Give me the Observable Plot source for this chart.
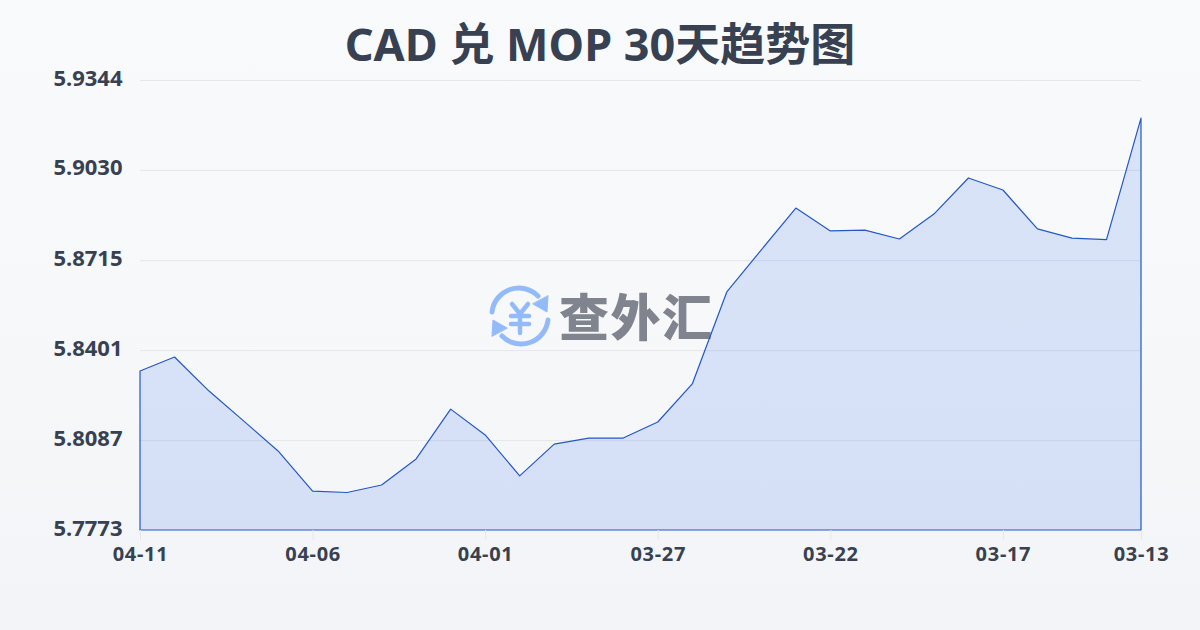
<!DOCTYPE html>
<html><head><meta charset="utf-8">
<script src="https://cdn.jsdelivr.net/npm/d3@7"></script>
<script src="https://cdn.jsdelivr.net/npm/@observablehq/plot@0.6"></script>
<style>
html,body{margin:0;padding:0}
body{width:1200px;height:630px;overflow:hidden;position:relative;background:linear-gradient(180deg,#f8fafc 0%,#f7f8fa 50%,#f2f4f7 100%);font-family:"Noto Sans","Noto Sans CJK SC",sans-serif}
#title{height:60px;padding-top:14px;box-sizing:border-box;text-align:center;font-size:45px;line-height:60px;font-weight:700;color:#374151;position:relative}
#logo{position:absolute;left:488px;top:284px;width:64px;height:64px}
#logotext{position:absolute;left:559px;top:280px;font:900 50px/68px "Noto Sans CJK SC",sans-serif;color:#7f848e;white-space:nowrap;letter-spacing:1.5px}
#chart{position:relative}
#chart svg{display:block;background:transparent}
g[aria-label="x-axis tick label"] text{letter-spacing:.7px}
</style></head><body>
<div id="logo"><svg width="64" height="64" viewBox="0 0 64 64" fill="none" stroke="#93bbfa" stroke-width="5" stroke-linecap="round" stroke-linejoin="round">
<path d="M4 28 A27 27 0 0 1 50 12"/><path d="M60 36 A27 27 0 0 1 14 52"/>
<path d="M60 12 L59 28 L45 20 Z" fill="#93bbfa" stroke-width="1"/><path d="M4 52 L5 36 L19 44 Z" fill="#93bbfa" stroke-width="1"/>
<path d="M24 20 L32 30 L40 20 M23 32 H41 M23 40 H41 M32 30 V49" stroke-width="4.5"/>
</svg></div>
<div id="logotext">查外汇</div>
<div id="title">CAD 兑 MOP 30天趋势图</div>
<div id="chart"></div>
<script>
const dates = ["04-11","04-10","04-09","04-08","04-07","04-06","04-05","04-04","04-03","04-02","04-01","03-31","03-30","03-29","03-28","03-27","03-26","03-25","03-24","03-23","03-22","03-21","03-20","03-19","03-18","03-17","03-16","03-15","03-14","03-13"];
const rates = [5.8328,5.8377,5.8258,5.8154,5.8049,5.7909,5.7904,5.7930,5.8021,5.8195,5.8105,5.7962,5.8073,5.8094,5.8094,5.8150,5.8283,5.8604,5.8751,5.8897,5.8817,5.8820,5.8789,5.8876,5.9002,5.8960,5.8824,5.8792,5.8787,5.9211];
const yTicks = [5.7773,5.8087,5.8401,5.8715,5.9030,5.9344];
const xTicks = ["04-11","04-06","04-01","03-27","03-22","03-17","03-13"];
const table = dates.map((d,i)=>({d,v:rates[i]}));
const plot = Plot.plot({
  width:1200,height:570,marginLeft:140,marginRight:59,marginTop:20,marginBottom:100,
  style:{background:"transparent",overflow:"visible"},
  x:{type:"point",domain:dates,padding:0,round:false},
  y:{domain:[5.7773,5.9344]},
  marks:[
    Plot.ruleY(yTicks.slice(1),{stroke:"#e5e7eb",strokeWidth:1}),
    Plot.areaY(table,{x:"d",y1:5.7773,y2:"v",fill:"#2563eb",fillOpacity:0.15,stroke:"#2458c6",strokeWidth:1.2}),
    Plot.axisY({ticks:yTicks,tickFormat:d=>d.toFixed(4),tickSize:0,tickPadding:0,dx:-18,dy:-2,fontSize:22,fontWeight:700,fill:"#374151",fontFamily:"Noto Sans",label:null}),
    Plot.axisX({ticks:xTicks,tickSize:10,tickPadding:6,stroke:"#e5e7eb",fontSize:20,fontWeight:700,fill:"#374151",fontFamily:"Noto Sans",label:null})
  ]
});
document.getElementById("chart").appendChild(plot);
</script>
</body></html>
